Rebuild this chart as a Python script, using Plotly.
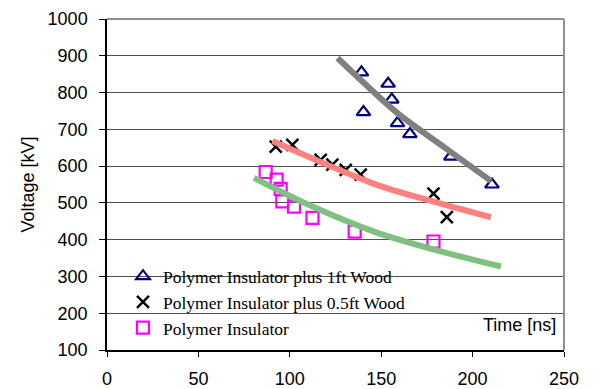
import plotly.graph_objects as go

# ---- data ----
tri_x = [139.2, 153.8, 155.8, 140.3, 158.9, 165.7, 188.1, 210.6]
tri_y = [855, 824, 781, 747, 717, 687, 626, 550]

x_x = [92.3, 101.4, 116.9, 123.3, 130.6, 138.8, 178.6, 185.9]
x_y = [653, 658, 617, 604, 590, 577, 525, 461]

sq_x = [86.8, 92.8, 95.0, 95.9, 102.3, 112.4, 135.5, 178.6]
sq_y = [584, 563, 538, 504, 490, 459, 422, 395]

grey_x = [126.1, 140.6, 158.9, 186.3, 210.0]
grey_y = [894, 826, 744, 645, 560]

red_x = [90.5, 116.9, 148.8, 182.6, 210.0]
red_y = [668, 611, 547, 498, 461]

green_x = [80.4, 112.4, 146.1, 182.6, 215.5]
green_y = [568, 490, 422, 368, 327]

names = ["Polymer Insulator plus 1ft Wood",
         "Polymer Insulator plus 0.5ft Wood",
         "Polymer Insulator"]

x_ticks = [0, 50, 100, 150, 200, 250]
y_ticks = [100, 200, 300, 400, 500, 600, 700, 800, 900, 1000]

fig = go.Figure()

fig.add_trace(go.Scatter(x=tri_x, y=tri_y, mode="markers", name=names[0],
                         marker=dict(symbol="triangle-up-open", size=12, color="#000080",
                                     line=dict(width=2.2, color="#000080"))))
fig.add_trace(go.Scatter(x=x_x, y=x_y, mode="markers", name=names[1],
                         marker=dict(symbol="x-thin-open", size=12, color="black",
                                     line=dict(width=2.5, color="black"))))
fig.add_trace(go.Scatter(x=sq_x, y=sq_y, mode="markers", name=names[2],
                         marker=dict(symbol="square-open", size=12, color="#FF00FF",
                                     line=dict(width=2.2, color="#FF00FF"))))

for lx, ly, c in [(grey_x, grey_y, "#808080"), (red_x, red_y, "#FF8080"),
                  (green_x, green_y, "#80C080")]:
    fig.add_trace(go.Scatter(x=lx, y=ly, mode="lines", showlegend=False,
                             line=dict(color=c, width=6, shape="spline"),
                             hoverinfo="skip"))

fig.update_layout(
    width=602, height=389,
    margin=dict(l=107, r=38, t=19, b=39, autoexpand=False),
    paper_bgcolor="white", plot_bgcolor="white",
    font=dict(family="Liberation Sans, Arial", size=18, color="black"),
    showlegend=True,
    legend=dict(x=0.035, y=0.277, xanchor="left", yanchor="top",
                bgcolor="rgba(0,0,0,0)",
                font=dict(family="Liberation Serif, Times New Roman", size=17.5, color="black"),
                tracegroupgap=0, itemwidth=30),
    xaxis=dict(range=[0, 250], tickvals=x_ticks, ticks="outside", ticklen=5,
               tickcolor="black", showline=True, linecolor="black", linewidth=1.5,
               showgrid=False, zeroline=False, ticklabelstandoff=7, automargin=False,
               tickfont=dict(size=18)),
    yaxis=dict(range=[100, 1000], tickvals=y_ticks, ticks="outside", ticklen=6,
               tickcolor="black", showline=True, linecolor="black", linewidth=1.5,
               showgrid=True, gridcolor="#505050", gridwidth=1, zeroline=False,
               ticklabelstandoff=8, automargin=False, tickfont=dict(size=18)),
    shapes=[
        dict(type="rect", xref="paper", yref="paper", x0=0.044, x1=0.755, y0=0.012, y1=0.29,
             fillcolor="white", line=dict(width=0), layer="between"),
        dict(type="line", xref="paper", yref="paper", x0=0, x1=1, y0=1, y1=1,
             line=dict(color="#909090", width=2), layer="above"),
        dict(type="line", xref="paper", yref="paper", x0=1, x1=1, y0=0, y1=1,
             line=dict(color="#909090", width=2), layer="above"),
    ],
    annotations=[
        dict(text="Voltage [kV]", xref="paper", yref="paper", x=0, y=0.5,
             xanchor="center", yanchor="middle", xshift=-80, textangle=-90,
             showarrow=False, font=dict(size=18)),
        dict(text="Time [ns]", xref="paper", yref="y", x=1, y=168,
             xanchor="right", yanchor="middle", xshift=-6,
             showarrow=False, font=dict(size=18)),
    ],
)

fig.write_html("out.html")
